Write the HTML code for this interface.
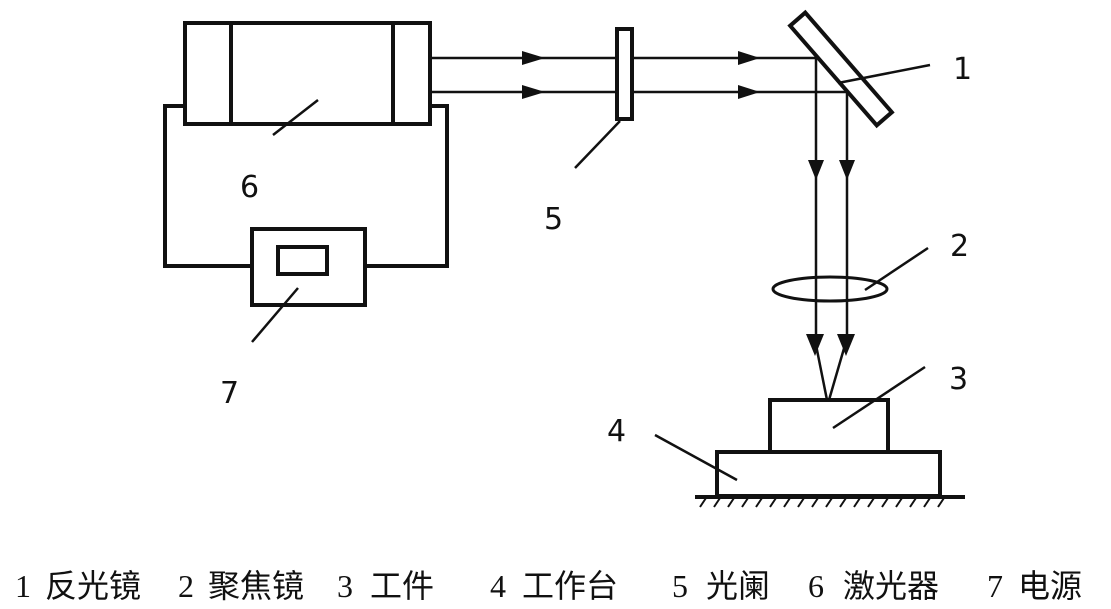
<!DOCTYPE html>
<html><head><meta charset="utf-8"><style>
html,body{margin:0;padding:0;background:#fff;}
svg{display:block;}
.n{font-family:"DejaVu Sans","Liberation Sans",sans-serif;font-size:30px;fill:#111;}
.c{font-family:"Liberation Serif","Noto Serif CJK SC",serif;font-size:32px;fill:#111;}
.z{font-family:"Noto Sans CJK SC",sans-serif;}
</style></head><body>
<svg width="1111" height="609" viewBox="0 0 1111 609" xmlns="http://www.w3.org/2000/svg">
<g fill="none" stroke="#111" stroke-width="4">
<rect x="185" y="23" width="245" height="101"/>
<line x1="231" y1="23" x2="231" y2="124"/>
<line x1="393" y1="23" x2="393" y2="124"/>
<polyline points="185,106 165,106 165,266 252,266"/>
<polyline points="430,106 447,106 447,266 365,266"/>
<rect x="252" y="229" width="113" height="76"/>
<rect x="278" y="247" width="49" height="27"/>
<rect x="617" y="29" width="15" height="90"/>
<rect x="770" y="400" width="118" height="52"/>
<rect x="717" y="452" width="223" height="44"/>
<line x1="695" y1="497" x2="965" y2="497"/>
<rect x="775" y="59" width="132" height="20" transform="rotate(49 841 69)"/>
</g>
<g stroke="#111" stroke-width="2.5" fill="none">
<line x1="430" y1="58" x2="617" y2="58"/><line x1="632" y1="58" x2="816" y2="58"/>
<line x1="430" y1="92" x2="617" y2="92"/><line x1="632" y1="92" x2="847" y2="92"/>
<line x1="816" y1="58" x2="816" y2="345"/>
<line x1="847" y1="92" x2="847" y2="345"/>
<line x1="816" y1="345" x2="827" y2="400"/>
<line x1="845" y1="345" x2="829" y2="400"/>
<ellipse cx="830" cy="289" rx="57" ry="12" stroke-width="3"/>
<line x1="273" y1="135" x2="318" y2="100"/>
<line x1="252" y1="342" x2="298" y2="288"/>
<line x1="575" y1="168" x2="620" y2="121"/>
<line x1="838" y1="83" x2="930" y2="65"/>
<line x1="865" y1="290" x2="928" y2="248"/>
<line x1="833" y1="428" x2="925" y2="367"/>
<line x1="737" y1="480" x2="655" y2="435"/>
</g>
<g stroke="#111" stroke-width="2">
<path d="M700 507 L706 498 M714 507 L720 498 M728 507 L734 498 M742 507 L748 498 M756 507 L762 498 M770 507 L776 498 M784 507 L790 498 M798 507 L804 498 M812 507 L818 498 M826 507 L832 498 M840 507 L846 498 M854 507 L860 498 M868 507 L874 498 M882 507 L888 498 M896 507 L902 498 M910 507 L916 498 M924 507 L930 498 M938 507 L944 498"/>
</g>
<g fill="#111">
<polygon points="522,51 545,58 522,65"/>
<polygon points="522,85 545,92 522,99"/>
<polygon points="738,51 760,58 738,65"/>
<polygon points="738,85 760,92 738,99"/>
<polygon points="808,160 824,160 816,180"/>
<polygon points="839,160 855,160 847,180"/>
<polygon points="806,334 824,334 815,356"/>
<polygon points="837,334 855,334 846,356"/>
</g>
<text class="n" x="240" y="197">6</text>
<text class="n" x="544" y="229">5</text>
<text class="n" x="220" y="403">7</text>
<text class="n" x="953" y="79">1</text>
<text class="n" x="950" y="256">2</text>
<text class="n" x="949" y="389">3</text>
<text class="n" x="607" y="441">4</text>
<text class="c" x="15" y="597">1</text><text class="c z" x="45" y="597">反光镜</text>
<text class="c" x="178" y="597">2</text><text class="c z" x="208" y="597">聚焦镜</text>
<text class="c" x="337" y="597">3</text><text class="c z" x="370" y="597">工件</text>
<text class="c" x="490" y="597">4</text><text class="c z" x="522" y="597">工作台</text>
<text class="c" x="672" y="597">5</text><text class="c z" x="706" y="597">光阑</text>
<text class="c" x="808" y="597">6</text><text class="c z" x="843" y="597">激光器</text>
<text class="c" x="987" y="597">7</text><text class="c z" x="1018" y="597">电源</text>
</svg>
</body></html>
